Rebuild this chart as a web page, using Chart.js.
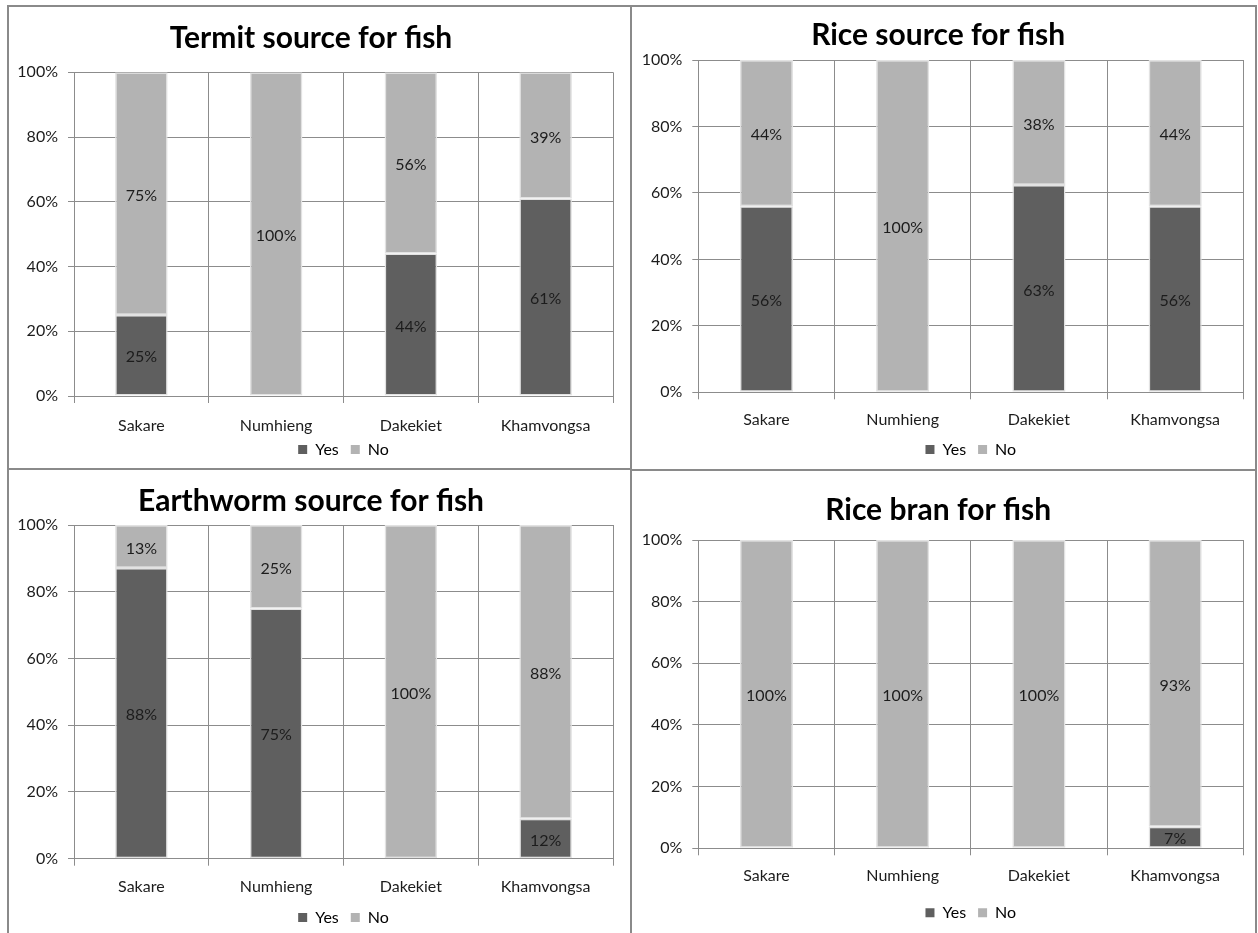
<!DOCTYPE html>
<html>
<head>
<meta charset="utf-8">
<title>Feed sources for fish</title>
<script src="https://cdn.jsdelivr.net/npm/chart.js@4.4.1/dist/chart.umd.min.js"></script>
<style>
  html, body { margin: 0; padding: 0; background: #ffffff; width: 1258px; height: 933px; overflow: hidden; }
  canvas { position: absolute; }
  .rule { position: absolute; background: #8a8a8a; z-index: 5; }
</style>
</head>
<body>
<canvas id="termitChart"></canvas>
<canvas id="riceChart"></canvas>
<canvas id="earthwormChart"></canvas>
<canvas id="branChart"></canvas>

<!-- frame around the four charts -->
<div class="rule" style="left:7px;top:5px;width:1250px;height:2px;"></div>
<div class="rule" style="left:7px;top:5px;width:2px;height:928px;"></div>
<div class="rule" style="left:630px;top:5px;width:2px;height:928px;"></div>
<div class="rule" style="left:1255px;top:5px;width:2px;height:928px;"></div>
<div class="rule" style="left:7px;top:468px;width:624px;height:2px;"></div>
<div class="rule" style="left:631px;top:469px;width:626px;height:2px;"></div>

<script>
// Villages surveyed
const categories = ['Sakare', 'Numhieng', 'Dakekiet', 'Khamvongsa'];
const seriesNames = ['Yes', 'No'];
const yTicks = [0, 20, 40, 60, 80, 100];

// Percent of households answering Yes / No, per village
const termitYes = [25, 0, 44, 61];
const termitNo = [75, 100, 56, 39];

const riceYes = [56, 0, 63, 56];
const riceNo = [44, 100, 38, 44];

const earthwormYes = [88, 75, 0, 12];
const earthwormNo = [13, 25, 100, 88];

const branYes = [0, 0, 0, 7];
const branNo = [100, 100, 100, 93];

const YES_COLOR = '#5f5f5f';
const NO_COLOR = '#b3b3b3';
const GRID_COLOR = '#8c8c8c';
const TEXT_COLOR = '#1c1c1c';
const FONT = 'Lato, "Open Sans", sans-serif';

const TITLE_SIZE = 30;
const TITLE_LINE = TITLE_SIZE * 1.2;
const TEXT_SIZE = 16;
const TEXT_LINE = TEXT_SIZE * 1.2;
const LEGEND_PAD = 12;
const X_TICK_LEN = 7;

// 100% stacked: each value is drawn as its share of the village total
function shares(values, others) {
  return values.map((v, i) => {
    const total = v + others[i];
    return total ? (v / total) * 100 : 0;
  });
}

// Writes each segment's percentage in the middle of the segment
const valueLabels = {
  id: 'valueLabels',
  afterDatasetsDraw(chart) {
    const ctx = chart.ctx;
    ctx.save();
    ctx.font = `${TEXT_SIZE}px ${FONT}`;
    ctx.fillStyle = TEXT_COLOR;
    ctx.textAlign = 'center';
    ctx.textBaseline = 'middle';
    chart.data.datasets.forEach((ds, di) => {
      const meta = chart.getDatasetMeta(di);
      meta.data.forEach((bar, i) => {
        const v = ds.labelValues[i];
        if (!v) return;
        ctx.fillText(v + '%', bar.x, (bar.y + bar.base) / 2 + 2);
      });
    });
    ctx.restore();
  }
};

// Placement of each chart on the page: canvas box, plot area, text rows
const panels = [
  { id: 'termitChart', title: 'Termit source for fish', yes: termitYes, no: termitNo,
    box: [9, 7, 629, 467], plot: [74, 72.3, 613, 396], titleY: 39, labelY: 426, legendY: 450 },
  { id: 'riceChart', title: 'Rice source for fish', yes: riceYes, no: riceNo,
    box: [633, 7, 1255, 467], plot: [698.3, 60, 1243.3, 392.3], titleY: 36, labelY: 420.7, legendY: 450 },
  { id: 'earthwormChart', title: 'Earthworm source for fish', yes: earthwormYes, no: earthwormNo,
    box: [9, 471, 629, 933], plot: [74, 525, 613, 858.7], titleY: 502.5, labelY: 887.7, legendY: 918 },
  { id: 'branChart', title: 'Rice bran for fish', yes: branYes, no: branNo,
    box: [633, 472, 1255, 933], plot: [698.3, 540, 1243.3, 848.3], titleY: 511.7, labelY: 876.7, legendY: 913.3 }
];

panels.forEach(p => {
  const [x0, y0, x1, y1] = p.box;
  const [pl, pt, pr, pb] = p.plot;

  const legendMid = p.legendY - 0.5 - y0;
  const legendTop = legendMid - LEGEND_PAD - TEXT_SIZE / 2;
  const legendHeight = TEXT_SIZE + LEGEND_PAD + 10;
  const W = x1 - x0;
  const H = Math.max(y1 - y0, Math.ceil(legendTop + legendHeight));

  const plotTop = pt - y0;
  const plotBottom = pb - y0;
  const titleMid = p.titleY - 1 - y0;
  const titlePadTop = titleMid - TITLE_LINE / 2;
  const titlePadBottom = plotTop - titlePadTop - TITLE_LINE;
  const axisHeight = legendTop - plotBottom;
  const labelMid = p.labelY - 0.5 - y0;
  // distance from the axis line down to the middle of the village names
  const labelDrop = labelMid - plotBottom + TEXT_LINE / 2;

  const canvas = document.getElementById(p.id);
  canvas.width = W;
  canvas.height = H;
  canvas.style.left = x0 + 'px';
  canvas.style.top = y0 + 'px';
  canvas.style.width = W + 'px';
  canvas.style.height = H + 'px';

  const barStyle = {
    borderColor: '#e2e2e2',
    borderWidth: 1.5,
    borderSkipped: false,
    barPercentage: 0.39,
    categoryPercentage: 1
  };

  new Chart(canvas, {
    type: 'bar',
    data: {
      labels: categories,
      datasets: [
        Object.assign({ label: seriesNames[0], data: shares(p.yes, p.no), labelValues: p.yes,
          backgroundColor: YES_COLOR }, barStyle),
        Object.assign({ label: seriesNames[1], data: shares(p.no, p.yes), labelValues: p.no,
          backgroundColor: NO_COLOR }, barStyle)
      ]
    },
    options: {
      responsive: false,
      animation: false,
      devicePixelRatio: 1,
      layout: {
        padding: { top: 0, left: 0, right: x1 - pr, bottom: H - legendTop - legendHeight }
      },
      scales: {
        x: {
          stacked: true,
          offset: true,
          grid: { offset: true, color: GRID_COLOR, lineWidth: 1, tickLength: X_TICK_LEN },
          border: { display: false },
          // mirror keeps the names from being clipped to the axis box;
          // the negative padding then drops them below the axis line
          ticks: { font: { family: FONT, size: TEXT_SIZE }, color: TEXT_COLOR,
                   mirror: true, padding: -labelDrop, maxRotation: 0, autoSkip: false },
          afterFit: s => { s.height = axisHeight; }
        },
        y: {
          stacked: true,
          min: 0,
          max: 100,
          grid: { color: GRID_COLOR, lineWidth: 1, tickLength: 6 },
          border: { display: false },
          ticks: { font: { family: FONT, size: TEXT_SIZE }, color: TEXT_COLOR, padding: 10,
                   callback: v => v + '%' },
          afterBuildTicks: s => { s.ticks = yTicks.map(v => ({ value: v })); },
          afterFit: s => { s.width = pl - x0; }
        }
      },
      plugins: {
        title: {
          display: true,
          text: p.title,
          color: '#000000',
          font: { family: FONT, size: TITLE_SIZE, weight: 'bold', lineHeight: 1.2 },
          padding: { top: titlePadTop, bottom: titlePadBottom }
        },
        legend: {
          position: 'bottom',
          fullSize: false,
          labels: {
            boxWidth: 9,
            boxHeight: 9,
            padding: LEGEND_PAD,
            color: TEXT_COLOR,
            font: { family: FONT, size: TEXT_SIZE },
            generateLabels: chart => chart.data.datasets.map((d, i) => ({
              text: d.label,
              fillStyle: d.backgroundColor,
              strokeStyle: d.backgroundColor,
              lineWidth: 0,
              hidden: false,
              datasetIndex: i
            }))
          }
        },
        tooltip: { enabled: false }
      }
    },
    plugins: [valueLabels]
  });
});
</script>
</body>
</html>
